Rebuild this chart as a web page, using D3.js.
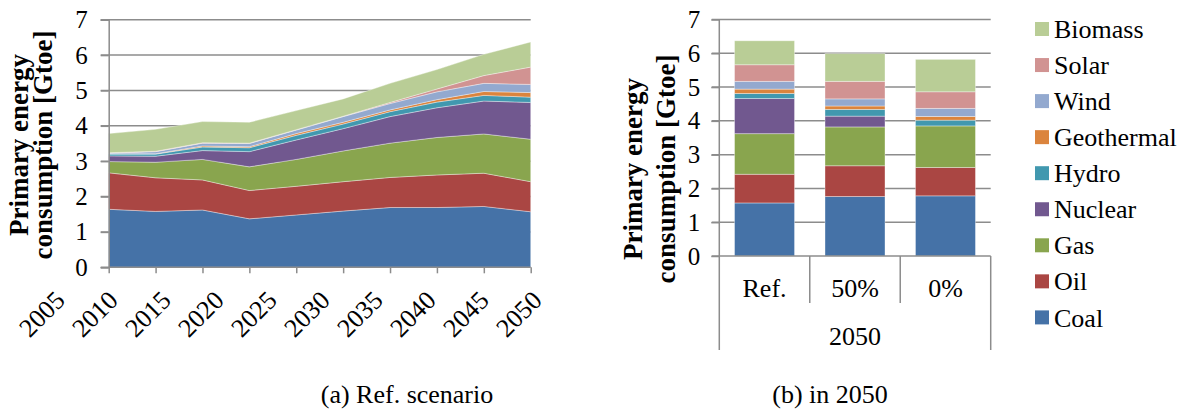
<!DOCTYPE html>
<html>
<head>
<meta charset="utf-8">
<script src="https://cdn.jsdelivr.net/npm/d3@7"></script>
<style>
  html, body { margin: 0; padding: 0; background: #fff; }
  svg { display: block; }
</style>
</head>
<body>
<svg id="chart" width="1185" height="412"></svg>
<script>
// ---- data -------------------------------------------------------------
const fuels = ["Coal", "Oil", "Gas", "Nuclear", "Hydro", "Geothermal", "Wind", "Solar", "Biomass"];
const fuelColors = ["#4572A7", "#AA4643", "#89A54E", "#71588F", "#4198AF", "#DB843D", "#93A9CF", "#D19392", "#B9CD96"];

// Reference scenario, primary energy consumption [Gtoe]
const years = [2005, 2010, 2015, 2020, 2025, 2030, 2035, 2040, 2045, 2050];
const coal = [1.64, 1.58, 1.62, 1.37, 1.48, 1.59, 1.69, 1.69, 1.72, 1.57];
const oil = [1.03, 0.95, 0.85, 0.80, 0.81, 0.83, 0.85, 0.92, 0.94, 0.85];
const gas = [0.32, 0.44, 0.58, 0.67, 0.76, 0.87, 0.97, 1.06, 1.11, 1.20];
const nuclear = [0.16, 0.17, 0.25, 0.43, 0.55, 0.63, 0.75, 0.84, 0.93, 1.04];
const hydro = [0.05, 0.06, 0.10, 0.11, 0.13, 0.13, 0.14, 0.16, 0.16, 0.15];
const geothermal = [0.01, 0.01, 0.03, 0.03, 0.05, 0.05, 0.05, 0.07, 0.11, 0.13];
const wind = [0.02, 0.06, 0.08, 0.09, 0.10, 0.16, 0.18, 0.22, 0.23, 0.23];
const solar = [0.01, 0.01, 0.01, 0.01, 0.01, 0.01, 0.03, 0.08, 0.22, 0.49];
const biomass = [0.54, 0.62, 0.60, 0.59, 0.54, 0.49, 0.54, 0.55, 0.60, 0.71];

// Scenarios in 2050 [Gtoe]
const scenarios = ["Ref.", "50%", "0%"];
const scenarioYear = "2050";
const coal2050 = [1.57, 1.76, 1.78];
const oil2050 = [0.85, 0.91, 0.84];
const gas2050 = [1.20, 1.15, 1.23];
const nuclear2050 = [1.04, 0.32, 0.00];
const hydro2050 = [0.15, 0.20, 0.17];
const geothermal2050 = [0.13, 0.10, 0.11];
const wind2050 = [0.23, 0.21, 0.24];
const solar2050 = [0.49, 0.52, 0.49];
const biomass2050 = [0.71, 0.82, 0.96];

const yTicks = [0, 1, 2, 3, 4, 5, 6, 7];
const yTitle = ["Primary energy", "consumption [Gtoe]"];
const captions = ["(a) Ref. scenario", "(b) in 2050"];

// ---- helpers ----------------------------------------------------------
const serif = '"Liberation Serif", "Times New Roman", Times, serif';
const seriesA = [coal, oil, gas, nuclear, hydro, geothermal, wind, solar, biomass];
const seriesB = [coal2050, oil2050, gas2050, nuclear2050, hydro2050, geothermal2050, wind2050, solar2050, biomass2050];
const color = d3.scaleOrdinal().domain(fuels).range(fuelColors);
const gridColor = "#8c8c8c";

const rowsA = years.map((y, i) => {
  const r = { year: y };
  fuels.forEach((f, k) => r[f] = seriesA[k][i]);
  return r;
});
const rowsB = scenarios.map((s, i) => {
  const r = { scenario: s };
  fuels.forEach((f, k) => r[f] = seriesB[k][i]);
  return r;
});
const stack = d3.stack().keys(fuels);

const svg = d3.select("#chart");

// ---- (a) stacked area -------------------------------------------------
{
  const x = d3.scaleLinear().domain([2005, 2050]).range([108.7, 530.7]);
  const y = d3.scaleLinear().domain([0, 7]).range([267.3, 19.7]);
  // year labels are spread a little wider than the tick marks
  const xLabel = d3.scalePoint().domain(years).range([60, 537]);
  const g = svg.append("g");

  g.append("g").selectAll("line").data(yTicks.filter(v => v > 0)).join("line")
    .attr("x1", 100.7).attr("x2", 530.7)
    .attr("y1", d => y(d)).attr("y2", d => y(d))
    .attr("stroke", gridColor).attr("stroke-width", 1.5);

  const area = d3.area()
    .x(d => x(d.data.year))
    .y0(d => y(d[0]))
    .y1(d => y(d[1]));

  g.append("g").selectAll("path").data(stack(rowsA)).join("path")
    .attr("d", area)
    .attr("fill", d => color(d.key))
    .attr("stroke", "#fff").attr("stroke-opacity", 0.45).attr("stroke-width", 0.8);

  const ya = g.append("g").attr("transform", `translate(${x(2005)},0)`)
    .call(d3.axisLeft(y).tickValues(yTicks).tickSize(8).tickPadding(13).tickFormat(d3.format("d")));
  ya.select(".domain").attr("stroke", gridColor).attr("stroke-width", 1.5);
  ya.selectAll(".tick line").attr("stroke", gridColor).attr("stroke-width", 1.5);
  ya.selectAll("text").style("font-size", "25px");

  const xa = g.append("g").attr("transform", `translate(0,${y(0)})`)
    .call(d3.axisBottom(x).tickValues(years).tickSize(6).tickFormat(() => ""));
  xa.select(".domain").attr("d", `M100.7,0H${x(2050)}`).attr("stroke", gridColor).attr("stroke-width", 1.5);
  xa.selectAll(".tick line").attr("stroke", gridColor).attr("stroke-width", 1.5);

  g.append("g").selectAll("text").data(years).join("text")
    .attr("text-anchor", "end")
    .attr("dy", "0.35em")
    .style("font-size", "26px")
    .attr("transform", d => `translate(${xLabel(d)},${y(0) + 28}) rotate(-45)`)
    .text(d3.format("d"));

  g.append("text").attr("font-weight", "bold").style("font-size", "27px").attr("text-anchor", "middle")
    .attr("transform", "translate(28,145) rotate(-90)").text(yTitle[0]);
  g.append("text").attr("font-weight", "bold").style("font-size", "27px").attr("text-anchor", "middle")
    .attr("transform", "translate(52,145) rotate(-90)").text(yTitle[1]);

  svg.append("text").attr("x", 407).attr("y", 403).attr("text-anchor", "middle")
    .style("font-size", "26px").text(captions[0]);
}

// ---- (b) stacked bars -------------------------------------------------
{
  const x = d3.scaleBand().domain(scenarios).range([719.3, 990.7]).paddingInner(0).paddingOuter(0);
  const y = d3.scaleLinear().domain([0, 7]).range([256, 19.5]);
  const barW = 60;
  const g = svg.append("g");

  g.append("g").selectAll("line").data(yTicks.filter(v => v > 0)).join("line")
    .attr("x1", 711.7).attr("x2", 990.7)
    .attr("y1", d => y(d)).attr("y2", d => y(d))
    .attr("stroke", gridColor).attr("stroke-width", 1.5);

  g.append("g").selectAll("g").data(stack(rowsB)).join("g")
    .attr("fill", d => color(d.key))
    .selectAll("rect").data(d => d).join("rect")
    .attr("x", d => x(d.data.scenario) + (x.bandwidth() - barW) / 2)
    .attr("width", barW)
    .attr("y", d => y(d[1]))
    .attr("height", d => y(d[0]) - y(d[1]))
    .attr("stroke", "#fff").attr("stroke-opacity", 0.45).attr("stroke-width", 0.8);

  const ya = g.append("g").attr("transform", `translate(719.3,0)`)
    .call(d3.axisLeft(y).tickValues(yTicks).tickSize(8).tickPadding(11).tickFormat(d3.format("d")));
  ya.select(".domain").attr("d", `M0,${y(7)}V350`).attr("stroke", gridColor).attr("stroke-width", 1.5);
  ya.selectAll(".tick line").attr("stroke", gridColor).attr("stroke-width", 1.5);
  ya.selectAll("text").style("font-size", "25px");

  // category axis with group divisions
  g.append("line").attr("x1", 711.7).attr("x2", 990.7).attr("y1", y(0)).attr("y2", y(0))
    .attr("stroke", gridColor).attr("stroke-width", 1.5);
  const edges = scenarios.slice(1).map(s => x(s));
  g.append("g").selectAll("line").data(edges).join("line")
    .attr("x1", d => d).attr("x2", d => d).attr("y1", y(0)).attr("y2", 303)
    .attr("stroke", gridColor).attr("stroke-width", 1.5);
  g.append("line").attr("x1", x.range()[1]).attr("x2", x.range()[1]).attr("y1", y(0)).attr("y2", 350)
    .attr("stroke", gridColor).attr("stroke-width", 1.5);

  g.append("g").selectAll("text").data(scenarios).join("text")
    .attr("x", d => x(d) + x.bandwidth() / 2).attr("y", 296.5)
    .attr("text-anchor", "middle").style("font-size", "26px").text(d => d);
  g.append("text").attr("x", (x.range()[0] + x.range()[1]) / 2).attr("y", 345)
    .attr("text-anchor", "middle").style("font-size", "26px").text(scenarioYear);

  g.append("text").attr("font-weight", "bold").style("font-size", "27px").attr("text-anchor", "middle")
    .attr("transform", "translate(642,169) rotate(-90)").text(yTitle[0]);
  g.append("text").attr("font-weight", "bold").style("font-size", "27px").attr("text-anchor", "middle")
    .attr("transform", "translate(675,169) rotate(-90)").text(yTitle[1]);

  svg.append("text").attr("x", 830).attr("y", 403).attr("text-anchor", "middle")
    .style("font-size", "26px").text(captions[1]);
}

// ---- legend (top entry = top of stack) --------------------------------
{
  const items = fuels.slice().reverse();
  const lg = svg.append("g").selectAll("g").data(items).join("g")
    .attr("transform", (d, i) => `translate(1035,${29 + i * 36.05})`);
  lg.append("rect").attr("x", 0).attr("y", -7).attr("width", 14).attr("height", 14)
    .attr("fill", d => color(d));
  lg.append("text").attr("x", 19).attr("y", 0).attr("dy", "0.35em")
    .style("font-size", "26px").text(d => d);
}

// every label in the figure uses the same serif face
svg.selectAll("text").style("font-family", serif).attr("fill", "#000");
</script>
</body>
</html>
